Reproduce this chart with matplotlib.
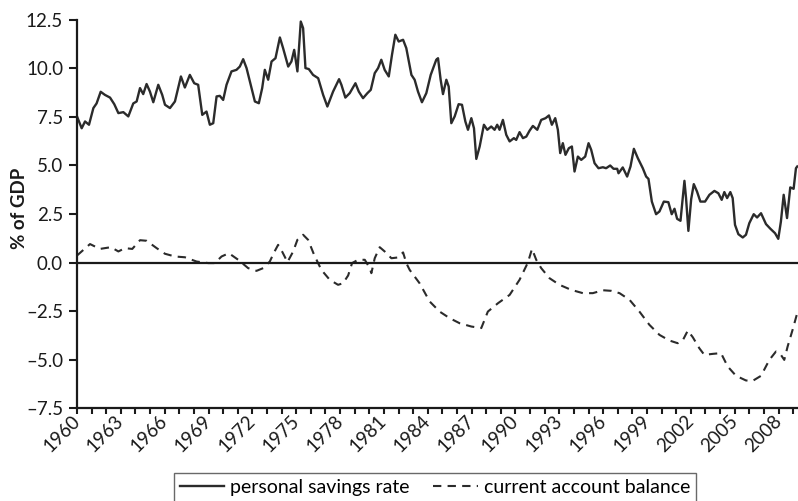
import numpy as np
import matplotlib
matplotlib.use("Agg")
import matplotlib.pyplot as plt
from matplotlib.ticker import FixedLocator, FixedFormatter

plt.rcParams['font.family'] = ['Lato', 'DejaVu Sans']

# personal savings rate (% of GDP)
sav_years = [1960.0, 1960.32, 1960.55, 1960.82, 1961.12, 1961.34, 1961.62, 1961.91, 1962.26, 1962.55,
             1962.83, 1963.17, 1963.51, 1963.85, 1964.08, 1964.31, 1964.53, 1964.76, 1964.99, 1965.22,
             1965.56, 1965.83, 1966.02, 1966.36, 1966.7, 1967.11, 1967.38, 1967.72, 1968.02, 1968.29,
             1968.57, 1968.86, 1969.09, 1969.32, 1969.55, 1969.77, 1970.0, 1970.23, 1970.57, 1970.91,
             1971.14, 1971.37, 1971.6, 1971.94, 1972.17, 1972.44, 1972.67, 1972.85, 1973.08, 1973.31,
             1973.58, 1973.88, 1974.1, 1974.45, 1974.67, 1974.86, 1975.08, 1975.31, 1975.47, 1975.63,
             1975.86, 1976.15, 1976.5, 1976.84, 1977.13, 1977.52, 1977.93, 1978.09, 1978.36, 1978.66,
             1979.05, 1979.28, 1979.57, 1979.87, 1980.1, 1980.37, 1980.6, 1980.82, 1981.05, 1981.33,
             1981.55, 1981.78, 1982.01, 1982.31, 1982.53, 1982.88, 1983.1, 1983.33, 1983.6, 1983.9,
             1984.2, 1984.58, 1984.7, 1984.88, 1985.04, 1985.27, 1985.43, 1985.61, 1985.84, 1986.11,
             1986.34, 1986.57, 1986.75, 1986.98, 1987.16, 1987.32, 1987.55, 1987.84, 1988.07, 1988.34,
             1988.57, 1988.75, 1988.91, 1989.14, 1989.37, 1989.6, 1989.89, 1990.05, 1990.28, 1990.51,
             1990.74, 1990.96, 1991.19, 1991.49, 1991.76, 1992.06, 1992.29, 1992.49, 1992.72, 1992.9,
             1993.06, 1993.24, 1993.42, 1993.65, 1993.86, 1994.04, 1994.27, 1994.5, 1994.77, 1995.0,
             1995.18, 1995.41, 1995.68, 1995.98, 1996.2, 1996.48, 1996.71, 1996.96, 1997.05, 1997.34,
             1997.64, 1997.87, 1998.1, 1998.37, 1998.71, 1998.94, 1999.1, 1999.33, 1999.62, 1999.85,
             2000.15, 2000.46, 2000.69, 2000.88, 2001.06, 2001.29, 2001.56, 2001.67, 2001.83, 2002.02,
             2002.2, 2002.42, 2002.65, 2002.97, 2003.27, 2003.61, 2003.88, 2004.11, 2004.29, 2004.48,
             2004.7, 2004.86, 2005.02, 2005.25, 2005.55, 2005.77, 2006.0, 2006.3, 2006.53, 2006.8,
             2007.14, 2007.44, 2007.76, 2007.98, 2008.16, 2008.35, 2008.58, 2008.8, 2009.03, 2009.19,
             2009.28]
sav_vals = [7.53, 6.92, 7.27, 7.1, 7.96, 8.2, 8.8, 8.64, 8.5, 8.16,
            7.7, 7.75, 7.53, 8.2, 8.3, 8.99, 8.68, 9.2, 8.81, 8.26,
            9.16, 8.64, 8.13, 7.96, 8.3, 9.59, 9.02, 9.67, 9.24, 9.16,
            7.61, 7.78, 7.1, 7.18, 8.56, 8.59, 8.38, 9.16, 9.85, 9.93,
            10.1, 10.48, 10.02, 8.99, 8.3, 8.21, 8.99, 9.93, 9.42, 10.36,
            10.53, 11.6, 11.05, 10.1, 10.36, 10.96, 9.85, 12.42, 12.08, 10.02,
            9.97, 9.67, 9.5, 8.64, 8.04, 8.81, 9.45, 9.16, 8.5, 8.73,
            9.24, 8.81, 8.47, 8.73, 8.9, 9.76, 10.02, 10.45, 9.93, 9.59,
            10.7, 11.74, 11.39, 11.48, 11.05, 9.67, 9.42, 8.81, 8.26, 8.73,
            9.67, 10.45, 10.53, 9.42, 8.68, 9.42, 9.07, 7.18, 7.53, 8.16,
            8.13, 7.27, 6.84, 7.44, 6.92, 5.34, 5.98, 7.1, 6.84, 7.01,
            6.84, 7.1, 6.84, 7.35, 6.58, 6.24, 6.41, 6.32, 6.72, 6.41,
            6.49, 6.79, 7.04, 6.84, 7.35, 7.44, 7.58, 7.1, 7.44, 6.84,
            5.64, 6.15, 5.55, 5.89, 5.98, 4.69, 5.46, 5.29, 5.46, 6.15,
            5.81, 5.12, 4.86, 4.91, 4.86, 5.0, 4.83, 4.83, 4.6, 4.9,
            4.43, 4.95, 5.86, 5.38, 4.86, 4.43, 4.31, 3.14, 2.49, 2.63,
            3.14, 3.11, 2.49, 2.77, 2.25, 2.15, 4.21, 3.32, 1.63, 3.26,
            4.04, 3.66, 3.14, 3.14, 3.49, 3.69, 3.57, 3.23, 3.63, 3.32,
            3.63, 3.32, 1.94, 1.46, 1.29, 1.43, 2.03, 2.49, 2.32, 2.54,
            1.98, 1.74, 1.51, 1.22, 2.11, 3.49, 2.29, 3.87, 3.8, 4.86,
            4.95]

# current account balance (% of GDP)
ca_years = [1960.0, 1960.89, 1961.57, 1962.32, 1962.83, 1963.28, 1963.78, 1964.31, 1964.76, 1965.45,
            1966.02, 1966.7, 1967.38, 1968.18, 1968.98, 1969.43, 1969.89, 1970.39, 1971.03, 1971.71,
            1972.28, 1972.74, 1973.19, 1973.49, 1973.76, 1974.03, 1974.4, 1974.79, 1975.08, 1975.47,
            1975.81, 1976.22, 1976.72, 1977.29, 1977.86, 1978.2, 1978.55, 1978.82, 1979.23, 1979.69,
            1980.03, 1980.14, 1980.37, 1980.71, 1981.05, 1981.51, 1981.96, 1982.31, 1982.53, 1982.76,
            1983.44, 1984.13, 1984.81, 1985.5, 1986.18, 1986.98, 1987.66, 1988.11, 1988.8, 1989.6,
            1990.28, 1990.85, 1991.13, 1991.42, 1991.76, 1992.33, 1993.01, 1993.81, 1994.61, 1995.29,
            1995.98, 1996.55, 1997.12, 1997.8, 1998.48, 1999.16, 1999.85, 2000.53, 2001.1, 2001.44,
            2001.79, 2002.13, 2002.58, 2002.92, 2003.49, 2004.06, 2004.52, 2005.09, 2005.77, 2006.23,
            2006.8, 2007.37, 2007.82, 2008.16, 2008.39, 2008.62, 2008.96, 2009.28]
ca_vals = [0.36, 0.95, 0.7, 0.79, 0.57, 0.74, 0.7, 1.15, 1.12, 0.74,
           0.45, 0.31, 0.27, 0.05, -0.03, -0.03, 0.31, 0.48, 0.14, -0.29,
           -0.43, -0.29, 0.05, 0.53, 0.91, 0.57, 0.02, 0.57, 1.17, 1.43,
           1.17, 0.4, -0.38, -0.89, -1.15, -1.07, -0.67, -0.03, 0.14, 0.14,
           -0.29, -0.55, 0.22, 0.79, 0.57, 0.22, 0.26, 0.52, -0.03, -0.38,
           -1.07, -2.01, -2.53, -2.87, -3.13, -3.3, -3.38, -2.53, -2.1, -1.67,
           -0.89, 0.0, 0.7, 0.14, -0.29, -0.81, -1.15, -1.41, -1.58, -1.58,
           -1.43, -1.46, -1.58, -1.92, -2.53, -3.21, -3.73, -4.02, -4.16, -4.02,
           -3.51, -3.85, -4.42, -4.76, -4.71, -4.67, -5.36, -5.84, -6.08, -6.1,
           -5.84, -5.02, -4.59, -4.76, -5.02, -4.33, -3.47, -2.6]

tick_years = list(range(1960, 2010))
tick_labels = [str(y) if (y - 1960) % 3 == 0 else '' for y in tick_years]
y_ticks = [-7.5, -5.0, -2.5, 0.0, 2.5, 5.0, 7.5, 10.0, 12.5]
y_labels = [('%.1f' % v).replace('-', '\u2013') for v in y_ticks]

fig = plt.figure(figsize=(7.98, 5.01), dpi=100)
ax = fig.add_axes([0.0965, 0.1856, 0.9035, 0.7745])

line_col = '#2b2b2b'
ax.plot(sav_years, sav_vals, color=line_col, lw=1.7, solid_joinstyle='round',
        label='personal savings rate')
ax.plot(ca_years, ca_vals, color=line_col, lw=1.5, linestyle=(0, (4, 3)),
        label='current account balance')
ax.axhline(0, color='#1a1a1a', lw=1.6)

ax.set_xlim(1960, 2009.33)
ax.set_ylim(-7.5, 12.5)
ax.xaxis.set_major_locator(FixedLocator(tick_years))
ax.xaxis.set_major_formatter(FixedFormatter(tick_labels))
ax.set_yticks(y_ticks)
ax.set_yticklabels(y_labels)

for s in ['top', 'right']:
    ax.spines[s].set_visible(False)
for s in ['left', 'bottom']:
    ax.spines[s].set_linewidth(1.6)
    ax.spines[s].set_color('#1a1a1a')

ax.tick_params(axis='x', length=4, width=1.5, pad=3.5, labelsize=13.5, colors='#1a1a1a')
ax.tick_params(axis='y', length=6, width=1.5, pad=4, labelsize=13.5, colors='#1a1a1a')
for lab in ax.get_xticklabels():
    lab.set_rotation(45)
    lab.set_rotation_mode('anchor')
    lab.set_ha('right')
    lab.set_va('center')

fig.text(0.024, 0.585, '% of GDP', rotation=90, ha='center', va='center',
         fontsize=13.5, fontweight='bold', color='#1a1a1a')

leg = fig.legend(loc='upper center', bbox_to_anchor=(0.545, 0.0559), ncol=2,
                 frameon=True, fancybox=False, fontsize=14, handlelength=2.3,
                 columnspacing=1.2, borderpad=0.3, handletextpad=0.3,
                 borderaxespad=0)
leg.get_frame().set_edgecolor('#444444')
leg.get_frame().set_linewidth(1.0)

fig.savefig('out.png', dpi=100)
